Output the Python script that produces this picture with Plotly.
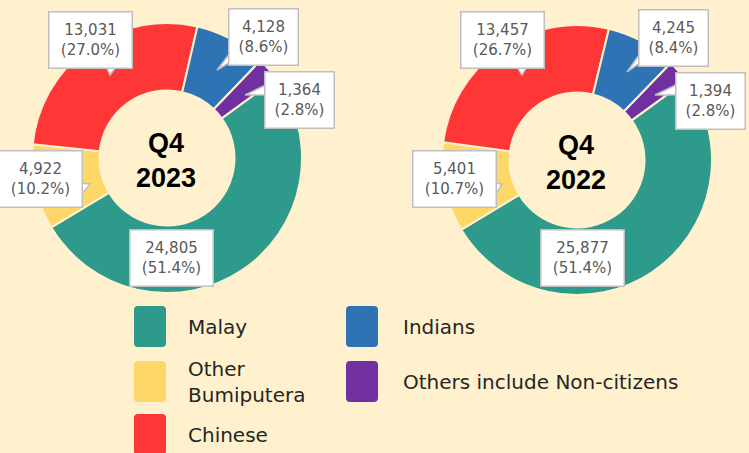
import plotly.graph_objects as go

# data
groups = ["Malay", "Other Bumiputera", "Chinese", "Indians", "Others include Non-citizens"]
colors = ["#2D9A8B", "#FDD868", "#FE3636", "#2E74B5", "#7030A0"]
q4_2023 = [24805, 4922, 13031, 4128, 1364]
q4_2022 = [25877, 5401, 13457, 4245, 1394]
periods = ["Q4<br>2023", "Q4<br>2022"]

W, H = 749, 453
BG = "#FFF1CD"
FONT = "DejaVu Sans"


def px(x):
    return x / W


def py(y):
    return 1 - y / H


fig = go.Figure()

# donut boxes in pixels: (x0, x1, y_top, y_bottom)
donut_boxes = [(32, 302, 23, 293), (442, 712, 25, 295)]
for vals, box in zip([q4_2023, q4_2022], donut_boxes):
    fig.add_trace(go.Pie(
        labels=groups, values=vals, sort=False, direction="clockwise",
        rotation=54, hole=0.5,
        marker=dict(colors=colors, line=dict(color=BG, width=2)),
        textinfo="none", hoverinfo="label+value+percent",
        domain=dict(x=[px(box[0]), px(box[1])], y=[py(box[3]), py(box[2])]),
        showlegend=False,
    ))

# callout label positions (pixel centres) per donut, same order as groups
label_pos = [
    [(171, 258), (40, 179), (90, 40), (263, 37), (299, 100)],
    [(582, 258), (454, 179), (502, 40), (673, 38), (710, 101)],
]
# pointer triangles: (base1, base2, tip) in pixels
pointers = [
    [None, ((78, 183), (78, 199), (90, 184)), ((104, 62), (120, 62), (110, 75)),
     ((234, 48), (234, 60), (217, 70)), ((270, 83), (270, 95), (245, 95))],
    [None, ((493, 183), (493, 199), (502, 184)), ((514, 62), (530, 62), (522, 75)),
     ((644, 48), (644, 60), (627, 72)), ((680, 83), (680, 95), (655, 95))],
]

for vals, pos, ptrs in zip([q4_2023, q4_2022], label_pos, pointers):
    total = sum(vals)
    for v, (cx, cy), ptr in zip(vals, pos, ptrs):
        if ptr is not None:
            (x1, y1), (x2, y2), (x3, y3) = ptr
            fig.add_shape(
                type="path", xref="paper", yref="paper",
                path=f"M {px(x1)} {py(y1)} L {px(x3)} {py(y3)} L {px(x2)} {py(y2)} Z",
                fillcolor="white", line=dict(color="#BFBFBF", width=1.5),
            )
        pct = f"({v / total * 100:.1f}%)"
        fig.add_annotation(
            x=px(cx), y=py(cy), xref="paper", yref="paper", showarrow=False,
            xanchor="center", yanchor="middle",
            text=f"{v:,}<br>{pct}",
            font=dict(family=FONT, size=15, color="#595959"),
            bgcolor="white", bordercolor="#BFBFBF", borderwidth=1.5,
            width=14 * len(pct) - 20, height=51, borderpad=2, align="center",
        )

# centre titles
for t, (cx, cy) in zip(periods, [(166, 160), (576, 162)]):
    fig.add_annotation(
        x=px(cx), y=py(cy), xref="paper", yref="paper", showarrow=False,
        xanchor="center", yanchor="middle",
        text=f"<b>{t}</b>", font=dict(family="Liberation Sans", size=27, color="black"),
    )

# custom legend: square position (x, top y) and text x, in pixels
legend_cells = [(134, 306, 186), (134, 361, 186), (134, 414, 186), (346, 306, 401), (346, 361, 401)]
legend_text = {"Other Bumiputera": "Other<br>Bumiputera"}
for g, c, (sx, sy, tx) in zip(groups, colors, legend_cells):
    w, h, r = 32, 41, 4
    x0, x1, y0, y1 = sx, sx + w, sy, sy + h
    path = (f"M {px(x0 + r)} {py(y0)} L {px(x1 - r)} {py(y0)} Q {px(x1)} {py(y0)} {px(x1)} {py(y0 + r)} "
            f"L {px(x1)} {py(y1 - r)} Q {px(x1)} {py(y1)} {px(x1 - r)} {py(y1)} "
            f"L {px(x0 + r)} {py(y1)} Q {px(x0)} {py(y1)} {px(x0)} {py(y1 - r)} "
            f"L {px(x0)} {py(y0 + r)} Q {px(x0)} {py(y0)} {px(x0 + r)} {py(y0)} Z")
    fig.add_shape(type="path", xref="paper", yref="paper", path=path,
                  fillcolor=c, line=dict(width=0))
    fig.add_annotation(
        x=px(tx), y=py(sy + h / 2), xref="paper", yref="paper", showarrow=False,
        xanchor="left", yanchor="middle", align="left",
        text=legend_text.get(g, g),
        font=dict(family=FONT, size=20, color="#262626"),
    )

fig.update_layout(
    width=W, height=H, margin=dict(l=0, r=0, t=0, b=0),
    paper_bgcolor=BG, plot_bgcolor=BG,
)

fig.write_html("out.html", config={"displayModeBar": False},
               post_script="document.body.style.margin='0';")
